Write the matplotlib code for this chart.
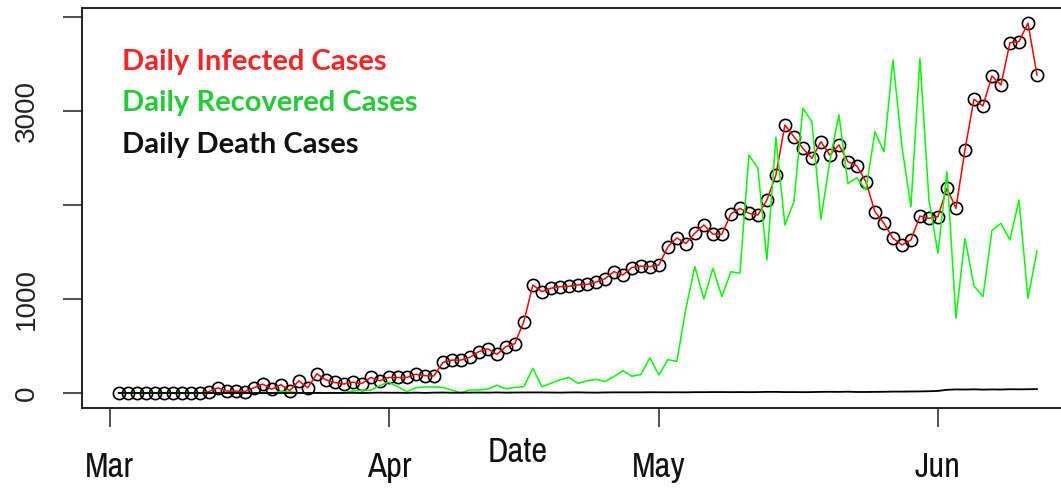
import matplotlib
matplotlib.use("Agg")
import matplotlib.pyplot as plt
import matplotlib.dates as mdates
from matplotlib import font_manager as fm
import numpy as np
import datetime as dt

# ---------------- data ----------------
start_date = "2020-03-02"
infected = [0, 0, 0, 0, 0, 0, 0, 0, 0, 0,
            15, 55, 20, 20, 15, 55, 95, 40, 90, 25,
            130, 55, 205, 140, 112, 95, 115, 100, 165, 130,
            165, 165, 165, 200, 185, 180, 325, 350, 350, 380,
            440, 470, 410, 493, 525, 759, 1149, 1078, 1114, 1131,
            1135, 1150, 1155, 1180, 1215, 1291, 1256, 1335, 1350, 1344,
            1362, 1555, 1650, 1590, 1700, 1787, 1690, 1690, 1905, 1965,
            1912, 1894, 2053, 2319, 2851, 2727, 2603, 2497, 2674, 2532,
            2639, 2461, 2415, 2248, 1929, 1805, 1646, 1575, 1628, 1883,
            1859, 1876, 2178, 1965, 2586, 3125, 3054, 3373, 3277, 3727,
            3738, 3934, 3384]
recovered = [0, 0, 0, 0, 0, 0, 0, 0, 0, 0,
             0, 0, 0, 0, 0, 0, 0, 0, 15, 15,
             0, 0, 0, 0, 0, 5, 20, 30, 30, 80,
             115, 67, 14, 55, 65, 65, 60, 30, 3, 32,
             32, 43, 82, 45, 60, 67, 263, 67, 103, 140,
             165, 103, 130, 145, 122, 174, 237, 178, 198, 375,
             191, 355, 336, 900, 1344, 1000, 1327, 1025, 1291, 1274,
             2532, 2390, 1415, 2720, 1787, 2035, 3029, 2887, 1850, 2470,
             2960, 2230, 2290, 2160, 2780, 2567, 3543, 2621, 1982, 3561,
             2053, 1486, 2355, 795, 1646, 1140, 1025, 1730, 1805, 1628,
             2053, 1007, 1510]
deaths = [0, 0, 0, 0, 0, 0, 0, 0, 0, 0,
          0, 0, 0, 0, 0, 0, 0, 0, 0, 0,
          0, 0, 1, 0, 1, 1, 2, 0, 2, 4,
          3, 3, 1, 4, 1, 4, 5, 3, 3, 4,
          5, 4, 6, 4, 5, 6, 6, 6, 5, 4,
          6, 7, 5, 4, 6, 7, 7, 7, 7, 8,
          8, 7, 8, 7, 9, 9, 10, 10, 9, 10,
          9, 10, 12, 12, 10, 10, 9, 10, 12, 13,
          12, 14, 11, 11, 12, 13, 15, 15, 16, 17,
          19, 22, 34, 38, 37, 39, 36, 38, 37, 40,
          39, 40, 41]
month_ticks = ["2020-03-01", "2020-04-01", "2020-05-01", "2020-06-01"]
month_labels = ["Mar", "Apr", "May", "Jun"]
y_ticks = [0, 1000, 2000, 3000, 4000]
y_labels = ["0", "1000", "", "3000", ""]
legend_labels = ["Daily Infected Cases", "Daily Recovered Cases", "Daily Death Cases"]

# ---------------- fonts ----------------
narrow_family = "DejaVu Sans"
for f in fm.fontManager.ttflist:
    if "Narrow" in f.name:
        narrow_family = f.name
        break
cond_prop = dict(family=[narrow_family, "DejaVu Sans"], stretch="condensed")

# ---------------- figure ----------------
W, H = 1061, 493
fig = plt.figure(figsize=(W / 100, H / 100), dpi=100)

x0 = dt.date.fromisoformat(start_date)
dates = [x0 + dt.timedelta(days=i) for i in range(len(infected))]
xnum = mdates.date2num(dates)

# R-style 4% padding
xr = xnum.max() - xnum.min()
xlim = (xnum.min() - 0.04 * xr, xnum.max() + 0.04 * xr)
allv = infected + recovered + deaths
yr = max(allv) - min(allv)
ylim = (min(allv) - 0.04 * yr, max(allv) + 0.04 * yr)

left_px, right_px = 82.0, 1073.7
top_px, bot_px = 8.4, 407.8
ax = fig.add_axes([left_px / W, 1 - bot_px / H, (right_px - left_px) / W, (bot_px - top_px) / H])
ax.set_xlim(*xlim)
ax.set_ylim(*ylim)

ax.plot(xnum, infected, linestyle="none", marker="o", markersize=8.8,
        markerfacecolor="none", markeredgecolor="black", markeredgewidth=1.2, zorder=2)
ax.plot(xnum, infected, color="red", lw=1.1, zorder=3)
ax.plot(xnum, recovered, color="#00ff00", lw=1.1, zorder=4)
ax.plot(xnum, deaths, color="black", lw=1.3, zorder=5)

for s in ax.spines.values():
    s.set_linewidth(1.4)
    s.set_color("#222222")

ax.set_xticks(mdates.date2num([dt.date.fromisoformat(d) for d in month_ticks]))
ax.set_xticklabels(month_labels, fontsize=25, color="#111111", **cond_prop)
ax.set_yticks(y_ticks)
ax.set_yticklabels(y_labels, family=["Liberation Sans", "DejaVu Sans"], fontsize=20, color="#222222",
                   rotation=90, va="center")
ax.tick_params(axis="x", length=14, width=1.1, pad=17, color="#222222")
ax.tick_params(axis="y", length=14, width=1.1, pad=16, color="#222222")

fig.text(518 / W, 1 - 452 / H, "Date", ha="center", va="center",
         fontsize=25, color="#111111", **cond_prop)

colors = ["#ff2222", "#22cc33", "#111111"]
ys = [62, 103, 145]
for lab, c, yp in zip(legend_labels, colors, ys):
    fig.text(122 / W, 1 - yp / H, lab, ha="left", va="center", fontsize=21,
             fontweight="bold", color=c, family=["Lato", "DejaVu Sans"])

fig.savefig("out.png", dpi=100)
